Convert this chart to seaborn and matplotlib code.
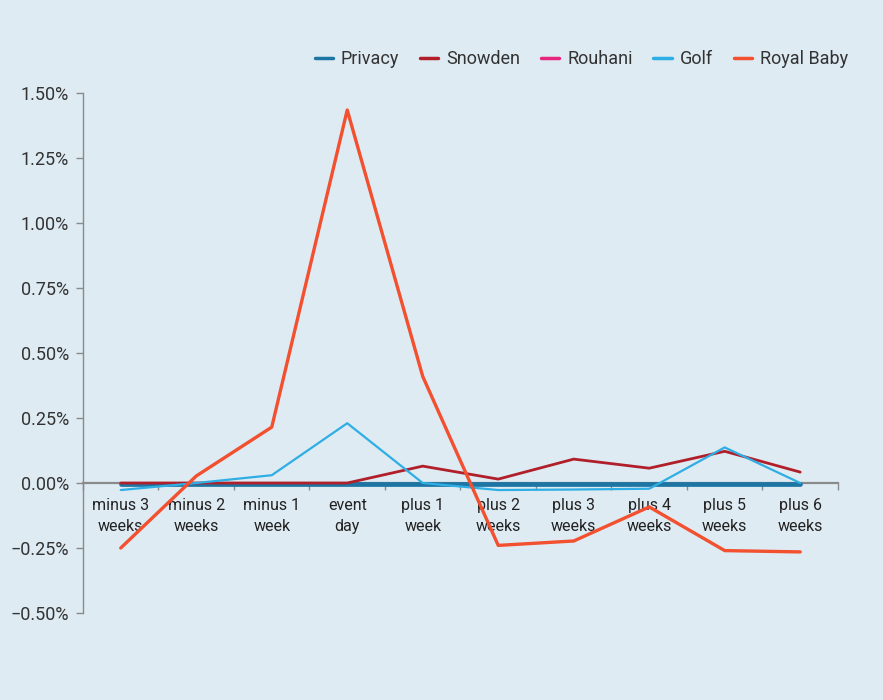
import matplotlib
matplotlib.use("Agg")
import matplotlib.pyplot as plt
from matplotlib.ticker import FuncFormatter, FixedLocator
import seaborn as sns
import pandas as pd

weeks = ["minus 3\nweeks", "minus 2\nweeks", "minus 1\nweek", "event\nday", "plus 1\nweek",
         "plus 2\nweeks", "plus 3\nweeks", "plus 4\nweeks", "plus 5\nweeks", "plus 6\nweeks"]

# change in share of traffic, in percent
privacy = [-0.003, -0.003, -0.003, -0.003, -0.003, -0.003, -0.003, -0.003, -0.003, -0.003]
snowden = [0.0, 0.0, 0.0, 0.0, 0.065, 0.015, 0.092, 0.057, 0.122, 0.042]
rouhani = [-0.007, -0.007, -0.007, -0.007, -0.007, -0.007, -0.007, -0.007, -0.007, -0.007]
golf = [-0.027, 0.0, 0.03, 0.23, 0.0, -0.027, -0.025, -0.022, 0.137, 0.0]
royal_baby = [-0.25, 0.027, 0.215, 1.435, 0.41, -0.24, -0.223, -0.092, -0.26, -0.265]

series_names = ["Privacy", "Snowden", "Rouhani", "Golf", "Royal Baby"]
series_values = [privacy, snowden, rouhani, golf, royal_baby]
colors = ["#1c75a3", "#b01f2a", "#e8257c", "#2eaee4", "#f2502f"]
widths = [3.4, 2.0, 1.5, 1.6, 2.4]
zorders = [3, 4, 2, 5, 6]

bg = "#deebf3"
sns.set_theme(style="white")
plt.rcParams["font.family"] = ["Roboto", "DejaVu Sans"]
plt.rcParams["text.color"] = "#333333"

fig = plt.figure(figsize=(8.83, 7.0), dpi=100, facecolor=bg)
ax = fig.add_axes([0.094, 0.1243, 0.855, 0.7427])
ax.set_facecolor(bg)

frames = []
for name, vals in zip(series_names, series_values):
    frames.append(pd.DataFrame({"week": weeks, "value": vals, "topic": name}))
df = pd.concat(frames, ignore_index=True)

for name, color, lw, z in zip(series_names, colors, widths, zorders):
    sns.lineplot(data=df[df["topic"] == name], x="week", y="value", color=color,
                 linewidth=lw, ax=ax, label=name, sort=False, zorder=z)

ax.set_xlim(-0.5, len(weeks) - 0.5)
ax.set_ylim(-0.5, 1.5)
ax.set_xlabel("")
ax.set_ylabel("")

ax.yaxis.set_major_locator(FixedLocator([-0.5, -0.25, 0, 0.25, 0.5, 0.75, 1.0, 1.25, 1.5]))
ax.yaxis.set_major_formatter(FuncFormatter(lambda v, p: f"{v:.2f}%".replace("-", "\u2212")))

for s in ["top", "right"]:
    ax.spines[s].set_visible(False)
ax.spines["left"].set_color("#8a8a8a")
ax.spines["left"].set_linewidth(1.0)
ax.spines["bottom"].set_position(("data", 0))
ax.spines["bottom"].set_color("#8a8a8a")
ax.spines["bottom"].set_linewidth(1.6)
ax.spines["bottom"].set_zorder(1)

ax.tick_params(axis="y", which="major", direction="out", length=5, width=1, color="#8a8a8a",
               labelsize=13, labelcolor="#333333", pad=5, left=True)
ax.set_xticks(range(len(weeks)))
ax.set_xticklabels(weeks)
ax.set_xticks([i + 0.5 for i in range(-1, len(weeks))], minor=True)
ax.tick_params(axis="x", which="major", length=0, labelsize=11.5, labelcolor="#222222", pad=11)
ax.tick_params(axis="x", which="minor", direction="out", length=5, width=1, color="#8a8a8a", bottom=True)
for lbl in ax.get_xticklabels():
    lbl.set_linespacing(1.5)

leg = ax.legend(loc="center", bbox_to_anchor=(0.66, 1.065), ncol=5, frameon=False,
                fontsize=13, handlelength=1.0, handletextpad=0.45, columnspacing=1.15)
for h in leg.get_lines():
    h.set_linewidth(2.5)

fig.savefig("out.png", dpi=100, facecolor=bg)
